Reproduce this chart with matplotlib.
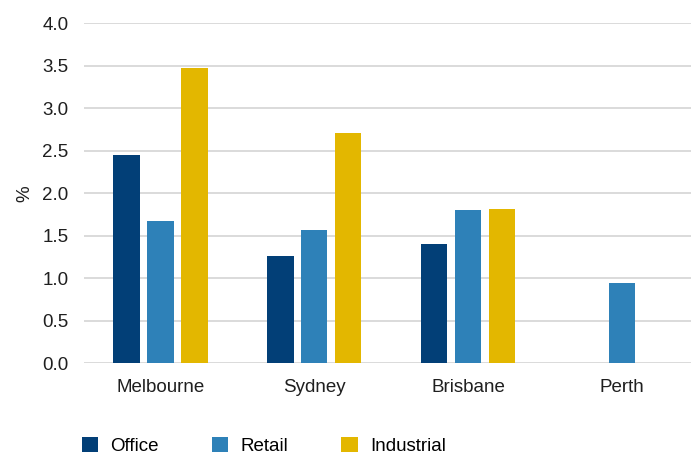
import numpy as np
import matplotlib.pyplot as plt

cities = ['Melbourne', 'Sydney', 'Brisbane', 'Perth']
office = [2.45, 1.26, 1.40, np.nan]
retail = [1.67, 1.57, 1.80, 0.95]
industrial = [3.48, 2.71, 1.81, np.nan]
yticks = [0.0, 0.5, 1.0, 1.5, 2.0, 2.5, 3.0, 3.5, 4.0]

plt.rcParams['font.family'] = ['Liberation Sans', 'DejaVu Sans']

fig = plt.figure(figsize=(6.91, 4.57), dpi=100)
ax = fig.add_axes([0.121, 0.205, 0.879, 0.744])

x = np.arange(len(cities))
w = 0.172
off = 0.22
ax.bar(x - off, office, w, color='#023f77', label='Office')
ax.bar(x, retail, w, color='#2e81b8', label='Retail')
ax.bar(x + off, industrial, w, color='#e3b700', label='Industrial')

ax.set_xlim(-0.5, 3.45)
ax.set_ylim(0, 4.0)
ax.set_yticks(yticks)
ax.set_yticklabels(['%.1f' % v for v in yticks])
ax.set_xticks(x)
ax.set_xticklabels(cities)
ax.tick_params(axis='both', length=0, labelsize=13.5, colors='#1f1f1f')
ax.tick_params(axis='y', pad=11)
ax.tick_params(axis='x', pad=11)
ax.yaxis.grid(True, color='#dadada', linewidth=1.4)
ax.set_axisbelow(True)
for s in ax.spines.values():
    s.set_visible(False)
ax.set_ylabel('%', fontsize=13.5, color='#1f1f1f', labelpad=6)

fig.legend(loc='center left', bbox_to_anchor=(0.118, 0.024), ncol=3, frameon=False,
           fontsize=13.5, handlelength=0.9, handleheight=0.9, handletextpad=0.65,
           columnspacing=2.8, borderaxespad=0, borderpad=0)

fig.savefig('out.png', dpi=100)
